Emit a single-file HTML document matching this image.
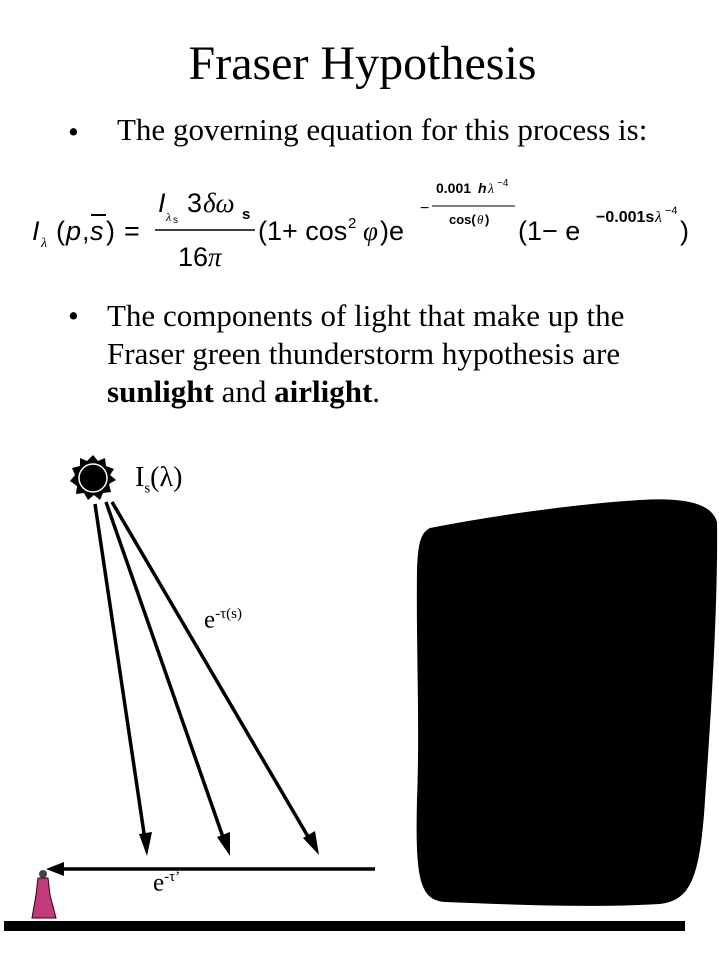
<!DOCTYPE html>
<html><head><meta charset="utf-8"><style>
body{margin:0;width:719px;height:959px;background:#fff;position:relative;overflow:hidden;font-family:"Liberation Serif",serif;color:#000}
.t{position:absolute;white-space:nowrap}
</style></head><body>
<div class="t" style="left:0;width:719px;text-align:center;top:36px;font-size:48px;padding-left:3px">Fraser Hypothesis</div>
<div class="t" style="left:68px;top:114px;font-size:31px">•</div>
<div class="t" style="left:117px;top:112px;font-size:31px">The governing equation for this process is:</div>
<svg style="position:absolute;left:0;top:0" width="719" height="959">
<g font-family="Liberation Sans, sans-serif" fill="#000">
<text x="32" y="240" font-size="27" font-style="italic">I</text>
<text x="41" y="247" font-size="14" font-family="Liberation Serif, serif" font-style="italic">λ</text>
<text x="56" y="240" font-size="27">(</text>
<text x="66" y="240" font-size="27" font-style="italic">p</text>
<text x="82" y="240" font-size="27">,</text>
<text x="90" y="240" font-size="27" font-style="italic">s</text>
<text x="106" y="240" font-size="27">)</text>
<text x="124" y="240" font-size="27">=</text>
<line x1="91" y1="215" x2="106" y2="215" stroke="#000" stroke-width="2"/>
<text x="158" y="212" font-size="27" font-style="italic">I</text>
<text x="166" y="221" font-size="12" font-family="Liberation Serif, serif" font-style="italic">λ</text>
<text x="173" y="223" font-size="10">s</text>
<text x="187" y="212" font-size="27">3</text>
<text x="203" y="212" font-size="27" font-family="Liberation Serif, serif" font-style="italic">δω</text>
<text x="242" y="219" font-size="15" font-weight="bold">s</text>
<line x1="155" y1="230" x2="255" y2="230" stroke="#000" stroke-width="1.5"/>
<text x="178" y="266" font-size="27">16</text>
<text x="208" y="266" font-size="27" font-family="Liberation Serif, serif" font-style="italic">π</text>
<text x="258" y="240" font-size="27">(1+ cos</text>
<text x="348" y="228" font-size="15">2</text>
<text x="363" y="240" font-size="27" font-family="Liberation Serif, serif" font-style="italic">φ</text>
<text x="380" y="240" font-size="27">)e</text>
<text x="420" y="213" font-size="16">−</text>
<text x="436" y="193" font-size="14" font-weight="bold">0.001</text>
<text x="478" y="193" font-size="14" font-weight="bold" font-style="italic">h</text>
<text x="488" y="193" font-size="14" font-family="Liberation Serif, serif" font-style="italic">λ</text>
<text x="497" y="186" font-size="10">−4</text>
<line x1="432" y1="206" x2="515" y2="206" stroke="#000" stroke-width="1"/>
<text x="449" y="224" font-size="13" font-weight="bold">cos(</text>
<text x="477" y="224" font-size="13" font-family="Liberation Serif, serif" font-style="italic">θ</text>
<text x="485" y="224" font-size="13" font-weight="bold">)</text>
<text x="518" y="240" font-size="27">(1− e</text>
<text x="596" y="222" font-size="16" font-weight="bold">−0.001s</text>
<text x="655" y="222" font-size="16" font-family="Liberation Serif, serif" font-style="italic">λ</text>
<text x="665" y="214" font-size="11">−4</text>
<text x="680" y="240" font-size="27">)</text>
</g>
<g transform="translate(93,478)">
<polygon fill="#000" points="0,-23 5,-17 12,-20 13,-12 21,-9 17,-3 23,2 16,6 18,14 10,15 7,22 1,17 -5,22 -9,15 -17,16 -16,8 -23,3 -18,-3 -21,-10 -13,-12 -13,-20 -6,-17"/>
<circle r="14" fill="#000" stroke="#fff" stroke-width="1.5"/>
</g>
<g stroke="#000" stroke-width="3.5">
<line x1="95" y1="504" x2="145" y2="840"/>
<line x1="106" y1="502" x2="224" y2="840"/>
<line x1="112" y1="502" x2="310" y2="840"/>
<line x1="375" y1="869" x2="60" y2="869"/>
</g>
<g fill="#000">
<polygon points="147,856 139,834 152,832"/>
<polygon points="230,856 217,837 230,832"/>
<polygon points="319,855 303,838 315,831"/>
<polygon points="46,869 64,862 64,876"/>
</g>
<rect x="4" y="921" width="681" height="10" fill="#000"/>
<path fill="#000" d="M430,528 C470,520 560,505 640,500 C690,497 712,505 717,522 C718,600 712,700 705,800 C700,880 690,900 660,904 C590,908 520,905 445,902 C420,900 415,880 417,800 C420,720 416,650 417,570 C418,545 420,533 430,528 Z"/>
<g>
<circle cx="43" cy="874" r="4" fill="#444"/>
<path d="M38,878 L48,878 L50,895 L56,918 L32,918 L36,895 Z" fill="#c23a7a" stroke="#300" stroke-width="1"/>
</g>
</svg>
<div class="t" style="left:135px;top:462px;font-size:28px">I<sub style="font-size:15px">s</sub>(<i style="font-style:normal">λ</i>)</div>
<div class="t" style="left:204px;top:606px;font-size:25px">e<sup style="font-size:15px">-τ(s)</sup></div>
<div class="t" style="left:153px;top:869px;font-size:25px">e<sup style="font-size:15px">-τ’</sup></div>
<div class="t" style="left:68px;top:298px;font-size:31px">•</div>
<div class="t" style="left:107px;top:297px;font-size:31px;line-height:38px">The components of light that make up the<br>Fraser green thunderstorm hypothesis are<br><b>sunlight</b> and <b>airlight</b>.</div>
</body></html>
